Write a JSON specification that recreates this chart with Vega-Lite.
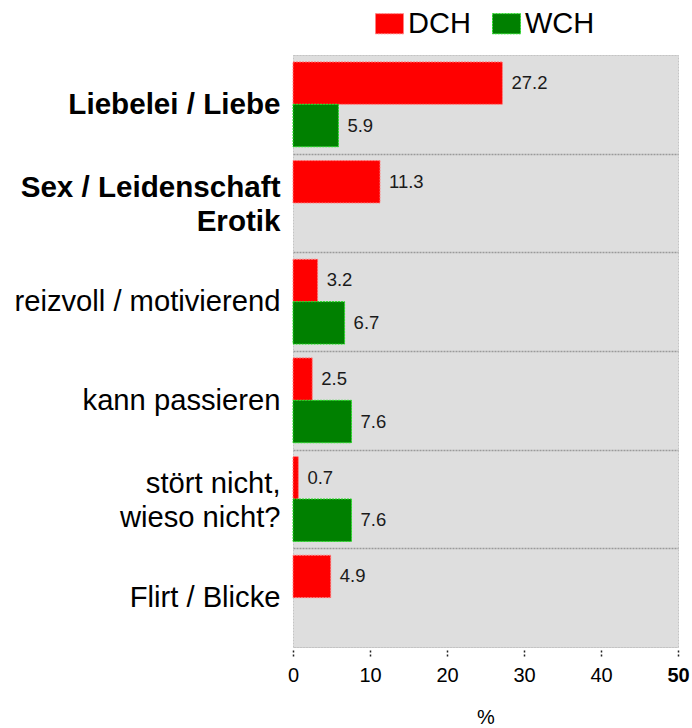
{
  "$schema": "https://vega.github.io/schema/vega-lite/v6.json",
  "autosize": "none",
  "width": 385,
  "height": 592,
  "padding": {"left": 293, "top": 55, "right": 14, "bottom": 81},
  "background": "white",
  "config": {
    "font": "Liberation Sans",
    "view": {"fill": "#dedede", "stroke": "#c4c4c4", "strokeDash": [2, 1]}
  },
  "data": {
    "values": [
      {"cat": "Liebelei / Liebe", "group": "DCH", "value": 27.2},
      {"cat": "Liebelei / Liebe", "group": "WCH", "value": 5.9},
      {"cat": "Sex / Leidenschaft Erotik", "group": "DCH", "value": 11.3},
      {"cat": "reizvoll / motivierend", "group": "DCH", "value": 3.2},
      {"cat": "reizvoll / motivierend", "group": "WCH", "value": 6.7},
      {"cat": "kann passieren", "group": "DCH", "value": 2.5},
      {"cat": "kann passieren", "group": "WCH", "value": 7.6},
      {"cat": "stört nicht, wieso nicht?", "group": "DCH", "value": 0.7},
      {"cat": "stört nicht, wieso nicht?", "group": "WCH", "value": 7.6},
      {"cat": "Flirt / Blicke", "group": "DCH", "value": 4.9}
    ]
  },
  "encoding": {
    "y": {
      "field": "cat",
      "type": "nominal",
      "sort": null,
      "scale": {"paddingInner": 0, "paddingOuter": 0},
      "axis": {
        "title": null,
        "domain": false,
        "ticks": false,
        "labelPadding": 13,
        "labelFontSize": {"condition": {"test": "datum.value == 'Liebelei / Liebe' || datum.value == 'Sex / Leidenschaft Erotik'", "value": 29.6}, "value": 29.2},
        "labelColor": "#000000",
        "labelLineHeight": 34,
        "labelLimit": 300,
        "labelFontWeight": {"condition": {"test": "datum.value == 'Liebelei / Liebe' || datum.value == 'Sex / Leidenschaft Erotik'", "value": "bold"}, "value": "normal"},
        "labelOffset": {"condition": {"test": "datum.value == 'Sex / Leidenschaft Erotik' || datum.value == 'stört nicht, wieso nicht?'", "value": -16}, "value": 0},
        "labelExpr": "datum.value == 'Sex / Leidenschaft Erotik' ? ['Sex / Leidenschaft', 'Erotik'] : datum.value == 'stört nicht, wieso nicht?' ? ['stört nicht,', 'wieso nicht?'] : datum.value == 'reizvoll / motivierend' ? 'reizvoll / motivierend\u00a0' : datum.value",
        "grid": true,
        "tickBand": "extent",
        "gridColor": {"condition": {"test": "datum.value == 'Flirt / Blicke' || !datum.value", "value": "#c4c4c4"}, "value": "#9a9a9a"},
        "gridDash": [2, 1],
        "gridWidth": {"condition": {"test": "datum.value == 'Flirt / Blicke' || !datum.value", "value": 1}, "value": 1.5}
      }
    },
    "yOffset": {"field": "group", "type": "nominal", "sort": ["DCH", "WCH"], "scale": {"domain": ["DCH", "WCH"], "paddingInner": 0, "paddingOuter": 0.163}},
    "x": {
      "field": "value",
      "type": "quantitative",
      "scale": {"domain": [0, 50], "nice": false},
      "axis": {
        "title": "%",
        "titleFontSize": 20,
        "titleFontWeight": "normal",
        "titleColor": "#000000",
        "titlePadding": 22,
        "values": [0, 10, 20, 30, 40, 50],
        "grid": false,
        "domain": false,
        "tickColor": "#222222",
        "tickDash": [2, 2],
        "tickSize": 7,
        "tickWidth": 1.5,
        "offset": 3,
        "labelFlush": false,
        "labelFontSize": 20,
        "labelColor": "#000000",
        "labelPadding": 8,
        "labelFontWeight": {"condition": {"test": "datum.value == 50", "value": "bold"}, "value": "normal"}
      }
    }
  },
  "layer": [
    {
      "mark": {"type": "bar", "strokeDash": [2, 1], "strokeWidth": 1},
      "encoding": {
        "fill": {
          "field": "group",
          "type": "nominal",
          "scale": {"domain": ["DCH", "WCH"], "range": ["#ff0000", "#008000"]},
          "legend": {
            "title": null,
            "orient": "none",
            "direction": "horizontal",
            "legendX": 82,
            "legendY": -46,
            "symbolType": "M-1,-0.72H1V0.72H-1Z",
            "symbolSize": 784,
            "symbolStrokeWidth": 1,
            "symbolDash": [2, 1],
            "labelFontSize": 29,
            "labelColor": "#000000",
            "labelOffset": 4,
            "columnPadding": 19,
            "labelLimit": 200
          }
        },
        "stroke": {
          "field": "group",
          "type": "nominal",
          "scale": {"domain": ["DCH", "WCH"], "range": ["#ff8080", "#22dd22"]},
          "legend": null
        }
      }
    },
    {
      "mark": {"type": "text", "align": "left", "baseline": "middle", "dx": 9, "fontSize": 18.5, "color": "#1a1a1a"},
      "encoding": {
        "text": {"field": "value", "type": "quantitative", "format": ".1f"}
      }
    }
  ]
}
